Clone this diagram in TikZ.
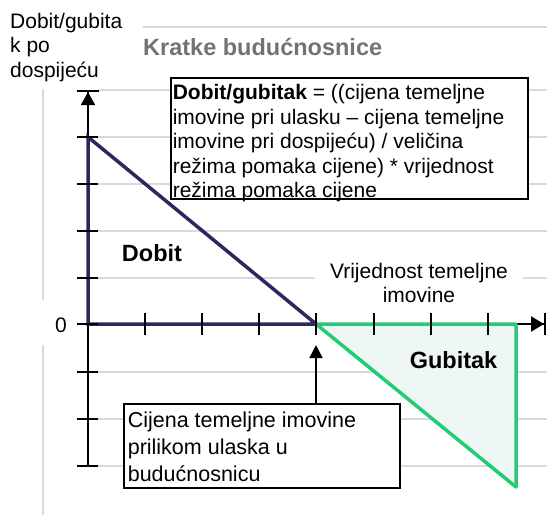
\documentclass[tikz,border=0pt]{standalone}
\usepackage{fontspec}
\setmainfont{Liberation Sans}
\usetikzlibrary{arrows.meta}
\definecolor{navy}{HTML}{2B2860}
\definecolor{grn}{HTML}{22CC77}
\definecolor{grnfill}{HTML}{EEF7F3}
\definecolor{gridgray}{HTML}{D9D9D9}
\definecolor{titlegray}{HTML}{737373}
\begin{document}
\begin{tikzpicture}[x=1pt,y=-1pt,
  grid/.style={draw=gridgray,line width=2pt},
  axis/.style={draw=black,line width=2pt},
  tickmark/.style={draw=black,line width=2pt},
  txt/.style={font=\fontsize{21}{24.5}\selectfont,inner sep=0pt},
  bld/.style={font=\fontsize{23.5}{28}\selectfont\bfseries,inner sep=0pt},
  infobox/.style={draw=black,line width=1.6pt,fill=white,inner sep=0pt,anchor=north west},
]
\useasboundingbox (0,0) rectangle (553,515);

% gray frame and grid lines
\draw[grid] (143,27) -- (547,27);
\draw[grid] (43,89) -- (43,300);
\draw[grid] (43,345) -- (43,515);
\foreach \y in {90,137,184,231,278,372,419,466} \draw[grid] (98,\y) -- (547,\y);

% key points
\coordinate (O) at (88,324);
\coordinate (ytop) at (88,90);
\coordinate (ybot) at (88,466);
\coordinate (xend) at (546,324);
\coordinate (peak) at (88,137);
\coordinate (entry) at (316,324);
\coordinate (gR) at (516,324);
\coordinate (gB) at (516,487);
\coordinate (arrowtip) at (316,345);

% loss area fill
\fill[grnfill] (entry) -- (gR) -- (gB) -- cycle;

% axes
\draw[axis,{Bar[width=22pt]Triangle[width=14pt,length=13pt]}-] (ytop) -- (ybot);
\draw[axis,-{Triangle[width=15pt,length=13pt]Bar[width=22pt]}] (O) -- (xend);

% profit and loss shapes
\draw[navy,line width=3.5pt] (O) -- (peak) -- (entry) -- cycle;
\draw[grn,line width=3.5pt,line join=round] (entry) -- (gR) -- (gB) -- cycle;

% ticks
\foreach \y in {137,184,231,278,324,372,419,466} \draw[tickmark] (77,\y) -- (98,\y);
\foreach \x in {145,202,259,316,374,431,488} \draw[tickmark] (\x,313) -- (\x,335);

% labels
\node[txt,anchor=north west,align=left] (ylab) at (10,8) {\rule{0pt}{20pt}Dobit/gubita\\k po\\dospijeću};
\node[bld,text=titlegray,anchor=base west] (title) at (143,55) {Kratke budućnosnice};
\node[txt] (zero) at (61,325) {0};
\node[bld,anchor=base] (dobit) at (152,261.5) {Dobit};
\node[bld,anchor=base] (gubitak) at (453.5,368) {Gubitak};
\node[txt,fill=white,align=center,minimum width=208pt,inner ysep=3pt] (xlab) at (419,283) {Vrijednost temeljne\\imovine};

% formula box
\node[infobox,inner xsep=2pt] (formula) at (170,77) {\parbox[c][121pt][t]{353pt}{\fontsize{21}{24.5}\selectfont\raggedright\rule{0pt}{22pt}\textbf{Dobit/gubitak} = ((cijena temeljne\\imovine pri ulasku – cijena temeljne\\imovine pri dospijeću) / veličina\\režima pomaka cijene) * vrijednost\\režima pomaka cijene}};

% entry price box
\node[infobox,inner xsep=4pt] (entrybox) at (123,403) {\parbox[c][84pt][t]{268pt}{\fontsize{21.5}{27}\selectfont\raggedright\rule{0pt}{23.5pt}Cijena temeljne imovine\\prilikom ulaska u\\budućnosnicu}};
\draw[line width=1.5pt,-{Triangle[width=13pt,length=13pt]}] (entrybox.north -| arrowtip) -- (arrowtip);
\end{tikzpicture}
\end{document}
